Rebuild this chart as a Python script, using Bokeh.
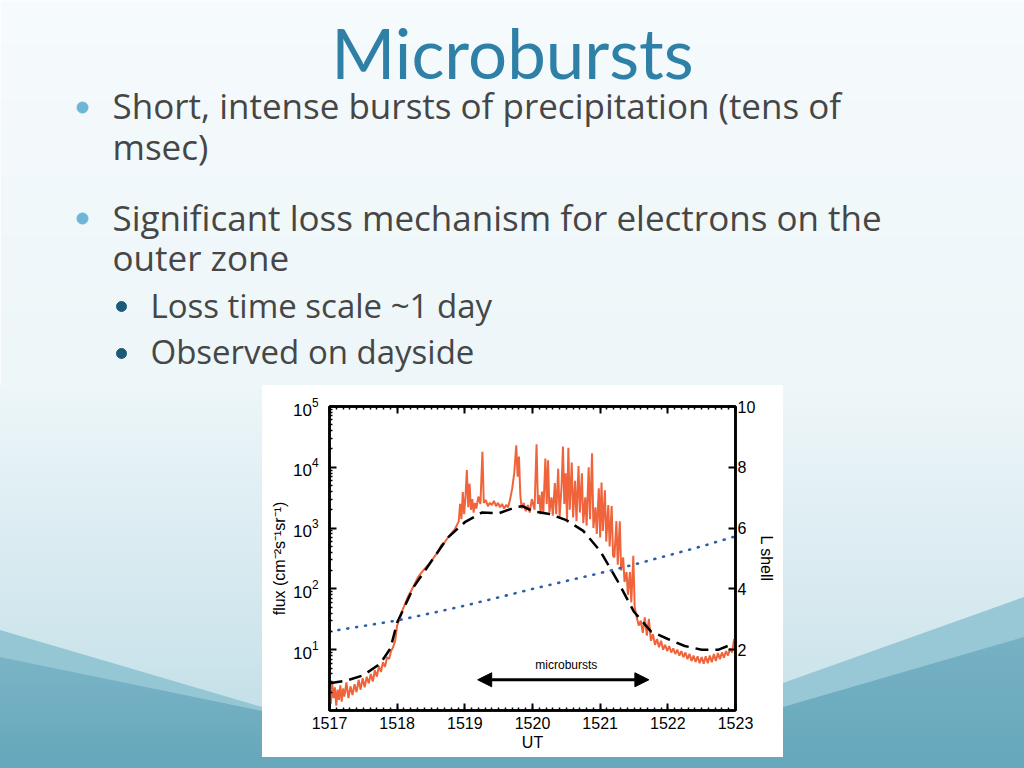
import numpy as np
from bokeh.plotting import figure
from bokeh.layouts import column, row
from bokeh.models import (Range1d, LinearAxis, LinearScale, FixedTicker, SingleIntervalTicker,
                          Arrow, NormalHead, CustomJSTickFormatter, LogTickFormatter, Div)
from bokeh.core.properties import value
from bokeh.embed import file_html
from bokeh.resources import INLINE

# ---------------- slide texts ----------------
title_text = "Microbursts"
bullet1_lines = ["Short, intense bursts of  precipitation (tens of", "msec)"]
bullet2_lines = ["Significant loss mechanism for electrons on the", "outer zone"]
sub_bullets = ["Loss time scale ~1 day", "Observed on dayside"]

# ---------------- chart data ----------------
ut_ticks = [1517, 1518, 1519, 1520, 1521, 1522, 1523]
flux_ticks = [1e1, 1e2, 1e3, 1e4, 1e5]
lshell_ticks = [2, 4, 6, 8, 10]

flux_t = [1517.00, 1517.02, 1517.04, 1517.06, 1517.08, 1517.10, 1517.12, 1517.14, 1517.16, 1517.18,
          1517.20, 1517.22, 1517.25, 1517.28, 1517.31, 1517.34, 1517.37, 1517.40, 1517.43, 1517.46,
          1517.49, 1517.52, 1517.55, 1517.58, 1517.61, 1517.64, 1517.67, 1517.70, 1517.73, 1517.76,
          1517.79, 1517.82, 1517.85, 1517.88, 1517.91, 1517.94, 1517.97, 1518.00, 1518.04, 1518.08,
          1518.12, 1518.16, 1518.20, 1518.25, 1518.30, 1518.35, 1518.40, 1518.45, 1518.50, 1518.55,
          1518.60, 1518.65, 1518.70, 1518.75, 1518.80, 1518.85, 1518.88, 1518.91, 1518.93, 1518.95,
          1518.97, 1518.99, 1519.01, 1519.03, 1519.05, 1519.07, 1519.09, 1519.11, 1519.13, 1519.15,
          1519.17, 1519.20, 1519.23, 1519.26, 1519.28, 1519.31, 1519.34, 1519.37, 1519.40, 1519.43,
          1519.46, 1519.49, 1519.52, 1519.55, 1519.58, 1519.61, 1519.64, 1519.67, 1519.70, 1519.73,
          1519.76, 1519.78, 1519.80, 1519.82, 1519.84, 1519.87, 1519.90, 1519.93, 1519.96, 1519.99,
          1520.03, 1520.06, 1520.08, 1520.10, 1520.12, 1520.14, 1520.16, 1520.19, 1520.21, 1520.23,
          1520.25, 1520.28, 1520.30, 1520.33, 1520.35, 1520.38, 1520.40, 1520.43, 1520.45, 1520.47,
          1520.49, 1520.51, 1520.53, 1520.55, 1520.58, 1520.60, 1520.63, 1520.65, 1520.68, 1520.70,
          1520.73, 1520.75, 1520.78, 1520.80, 1520.83, 1520.85, 1520.88, 1520.90, 1520.93, 1520.95,
          1520.98, 1521.00, 1521.02, 1521.04, 1521.07, 1521.09, 1521.12, 1521.14, 1521.17, 1521.19,
          1521.21, 1521.24, 1521.26, 1521.29, 1521.31, 1521.34, 1521.36, 1521.39, 1521.41, 1521.44,
          1521.46, 1521.49, 1521.51, 1521.54, 1521.57, 1521.60, 1521.63, 1521.66, 1521.69, 1521.72,
          1521.75, 1521.78, 1521.81, 1521.84, 1521.87, 1521.90, 1521.93, 1521.96, 1521.99, 1522.02,
          1522.05, 1522.08, 1522.11, 1522.14, 1522.17, 1522.20, 1522.23, 1522.26, 1522.29, 1522.32,
          1522.35, 1522.38, 1522.41, 1522.44, 1522.47, 1522.50, 1522.53, 1522.56, 1522.59, 1522.62,
          1522.65, 1522.68, 1522.71, 1522.74, 1522.77, 1522.80, 1522.83, 1522.86, 1522.89, 1522.92,
          1522.95, 1522.98, 1523.00]
flux_v = [2.5, 1.3, 2.8, 1.6, 2.4, 1.2, 2.2, 1.5, 2.6, 1.4,
          2.3, 1.7, 2.9, 1.6, 2.5, 1.8, 2.7, 2.0, 3.2, 2.2,
          3.4, 2.4, 3.6, 2.8, 4.0, 3.0, 4.6, 3.6, 5.4, 4.3,
          6.2, 5.2, 7.5, 7.0, 9.5, 11, 14, 25, 33, 45,
          58, 75, 90, 115, 150, 180, 210, 240, 280, 340,
          400, 520, 580, 700, 820, 950, 1100, 1300, 2500, 1400,
          3900, 1700, 3300, 9000, 2200, 5400, 2000, 3000, 1800, 2600,
          2100, 3300, 2500, 18000, 2600, 2900, 2300, 2600, 2400, 2800,
          2300, 2600, 2200, 2500, 2100, 2400, 2200, 3000, 4500, 8000,
          23000, 7000, 15000, 3500, 2100, 2600, 1900, 2400, 1800, 3000,
          2000, 24000, 2500, 3500, 1700, 4000, 1800, 14000, 2500, 13000,
          1800, 3200, 1600, 5500, 1700, 9500, 1500, 5000, 22000, 2500,
          8000, 1400, 21000, 2000, 12000, 1500, 6000, 1300, 10500, 1800,
          8000, 1200, 3200, 1100, 10000, 1400, 17000, 1000, 2200, 800,
          4500, 700, 5600, 900, 4200, 600, 2400, 500, 2300, 350,
          330, 1300, 250, 1300, 200, 330, 130, 190, 80, 190,
          60, 350, 50, 34, 25, 30, 19, 34, 17, 32,
          14, 18, 12, 15, 11, 14, 10, 12, 9.5, 11.5,
          9, 10.5, 8.5, 10, 8, 9.5, 7.5, 9, 7, 8.5,
          6.5, 8, 6.3, 7.8, 6, 7.6, 5.9, 7.8, 6, 8,
          6.2, 8.5, 6.5, 8.8, 7, 9, 7.4, 9.5, 8, 10.5,
          9, 15, 12]

fit_t = [1517.0, 1517.25, 1517.5, 1517.75, 1517.9, 1518.0, 1518.25, 1518.5, 1518.75, 1519.0,
         1519.25, 1519.5, 1519.75, 1519.85, 1520.0, 1520.25, 1520.5, 1520.75, 1521.0, 1521.25,
         1521.5, 1521.75, 1522.0, 1522.25, 1522.5, 1522.75, 1523.0]
fit_v = [2.8, 3.1, 3.8, 5.9, 10.5, 28, 110, 280, 700, 1250,
         1800, 1750, 2200, 2300, 1900, 1700, 1350, 900, 420, 140,
         42, 20, 15, 11.5, 10, 10, 13]

lshell_t = [1517.0, 1517.5, 1518.0, 1518.5, 1519.0, 1519.5, 1520.0, 1520.5, 1521.0, 1521.5,
            1522.0, 1522.5, 1523.0]
lshell_v = [2.6, 2.78, 2.96, 3.2, 3.45, 3.72, 4.0, 4.26, 4.52, 4.8, 5.1, 5.4, 5.73]

arrow_x = [1519.19, 1521.72]
arrow_flux = 3.2
note_x = [1520.5]
note_flux = [5.6]
note_text = ["microbursts"]

CHART_FONT = "Liberation Sans"
BODY_FONT = "Open Sans"
TITLE_FONT = "Lato"
TEXT_COLOR = "#464646"


def baseline(y, fs, k=0.36):
    # text is placed by its alphabetic baseline (slide pixel rows, y downward)
    return -(y - k * fs)


# ---------------- top part: title and bullets ----------------
top = figure(width=1024, height=385, x_range=Range1d(0, 1024), y_range=Range1d(-385, 0),
             output_backend="svg", toolbar_location=None, min_border=0)
top.axis.visible = False
top.grid.visible = False
top.outline_line_color = None
step = 4
nx, ny = 1024 // step, int(np.ceil(385 / step))
ys = 385 - (np.arange(ny) + 0.5) * step
xs = (np.arange(nx) + 0.5) * step
X, Y = np.meshgrid(xs, ys)
t = (Y / 385.0)[..., None]
c0 = np.array([246, 251, 253], float)
c1 = np.array([237, 246, 249], float)
colr = c0 + (c1 - c0) * t
img = np.zeros((ny, nx, 4), dtype=np.uint8)
img[..., :3] = np.clip(colr, 0, 255).astype(np.uint8)
img[..., 3] = 255
top.image_rgba(image=[img.view(np.uint32).reshape(ny, nx)], x=0, y=-ny * step,
               dw=nx * step, dh=ny * step)

top.text(x=[512], y=[baseline(77, 69)], text=[title_text], text_font=value(TITLE_FONT),
         text_font_size="69px", text_color="#2e80a6", text_align="center",
         text_baseline="alphabetic")
top.text(x=[112, 112, 112, 112],
         y=[baseline(118, 35), baseline(159, 35), baseline(230, 35), baseline(270, 35)],
         text=bullet1_lines + bullet2_lines, text_font=value(BODY_FONT),
         text_font_size="35px", text_color=TEXT_COLOR, text_baseline="alphabetic")
top.scatter(x=[82, 82], y=[-107, -218], size=11, color="#6db6d7")
top.text(x=[150, 150], y=[baseline(317, 33), baseline(363, 33)], text=sub_bullets,
         text_font=value(BODY_FONT), text_font_size="33px", text_color=TEXT_COLOR,
         text_baseline="alphabetic")
top.scatter(x=[121, 121], y=[-306, -353], size=10, color="#1d5a78")

# ---------------- chart ----------------
p = figure(width=521, height=372, x_range=Range1d(1517, 1523), y_range=Range1d(1, 1e5),
           y_axis_type="log", output_backend="svg", toolbar_location=None,
           min_border_left=67, min_border_right=48, min_border_top=21, min_border_bottom=47,
           background_fill_color="white", border_fill_color="white")
p.grid.visible = False
p.outline_line_color = "black"
p.outline_line_width = 2.5

x_ticker = SingleIntervalTicker(interval=1, num_minor_ticks=10)
minor_log = [m * 10 ** e for e in range(0, 5) for m in range(2, 10)]
y_ticker = FixedTicker(ticks=flux_ticks, minor_ticks=minor_log)

xa = p.xaxis[0]
xa.ticker = x_ticker
xa.axis_label = "UT"
ya = p.yaxis[0]
ya.ticker = y_ticker
ya.formatter = LogTickFormatter()
ya.axis_label = "flux (cm\u207b\u00b2s\u207b\u00b9sr\u207b\u00b9)"

p.extra_y_ranges = {"L": Range1d(0, 10)}
p.extra_y_scales = {"L": LinearScale()}
ra = LinearAxis(y_range_name="L", ticker=FixedTicker(ticks=lshell_ticks), axis_label="L shell")
p.add_layout(ra, "right")
ta = LinearAxis(ticker=x_ticker, formatter=CustomJSTickFormatter(code="return ''"))
p.add_layout(ta, "above")

for ax in [xa, ya, ra, ta]:
    ax.axis_line_width = 2.5
    ax.axis_line_color = "black"
    ax.major_tick_in = 7
    ax.major_tick_out = 0
    ax.minor_tick_in = 3
    ax.minor_tick_out = 0
    ax.major_tick_line_width = 2
    ax.minor_tick_line_width = 1.5
    ax.major_label_text_font = CHART_FONT
    ax.major_label_text_font_size = "16px"
    ax.major_label_text_color = "black"
    ax.axis_label_text_font = CHART_FONT
    ax.axis_label_text_font_size = "16px"
    ax.axis_label_text_font_style = "normal"
    ax.axis_label_text_color = "black"
    ax.major_label_standoff = 6
    ax.axis_label_standoff = 2
ya.major_label_text_font_size = "17px"
ya.major_label_standoff = 11
ya.axis_label_standoff = 2
ra.minor_tick_in = 0
ra.major_label_standoff = 2
ra.axis_label_standoff = 0
ta.axis_label_standoff = 0
ta.major_label_standoff = 0

p.line(flux_t, flux_v, line_color="#f0643c", line_width=2.0)
p.line(fit_t, fit_v, line_color="black", line_width=2.5, line_dash="13 7")
p.line(lshell_t, lshell_v, y_range_name="L", line_color="#2d5ea8", line_width=2.6,
       line_dash="1 8", line_cap="round")

p.add_layout(Arrow(start=NormalHead(size=14, fill_color="black", line_color="black"),
                   end=NormalHead(size=14, fill_color="black", line_color="black"),
                   x_start=arrow_x[0], y_start=arrow_flux, x_end=arrow_x[1], y_end=arrow_flux,
                   line_width=3, line_color="black"))
p.text(x=note_x, y=note_flux, text=note_text, text_font=value(CHART_FONT),
       text_font_size="12px", text_align="center", text_baseline="middle", text_color="black")

# ---------------- decorative slide background around the chart ----------------
left_svg = (
    '<svg xmlns="http://www.w3.org/2000/svg" width="262" height="372" style="display:block">'
    '<defs><linearGradient id="gl" x1="0" y1="0" x2="0" y2="1">'
    '<stop offset="0" stop-color="rgb(237,246,249)"/>'
    '<stop offset="0.7" stop-color="rgb(206,229,236)"/>'
    '<stop offset="1" stop-color="rgb(190,220,229)"/></linearGradient>'
    '<linearGradient id="gl2" x1="0" y1="0" x2="0" y2="1">'
    '<stop offset="0" stop-color="rgb(122,180,198)"/>'
    '<stop offset="1" stop-color="rgb(104,168,188)"/></linearGradient></defs>'
    '<rect width="262" height="372" fill="url(#gl)"/>'
    '<polygon points="0,245 262,322 262,372 0,372" fill="rgb(148,198,212)"/>'
    '<polygon points="0,272 262,326 262,372 0,372" fill="url(#gl2)"/>'
    '</svg>')
right_svg = (
    '<svg xmlns="http://www.w3.org/2000/svg" width="241" height="372" style="display:block">'
    '<defs><linearGradient id="gr" x1="0" y1="0" x2="0" y2="1">'
    '<stop offset="0" stop-color="rgb(238,246,249)"/>'
    '<stop offset="0.6" stop-color="rgb(214,233,239)"/>'
    '<stop offset="1" stop-color="rgb(195,223,231)"/></linearGradient>'
    '<linearGradient id="gr2" x1="0" y1="0" x2="0" y2="1">'
    '<stop offset="0" stop-color="rgb(118,177,196)"/>'
    '<stop offset="1" stop-color="rgb(104,168,188)"/></linearGradient></defs>'
    '<rect width="241" height="372" fill="url(#gr)"/>'
    '<polygon points="0,298 241,212 241,372 0,372" fill="rgb(152,200,213)"/>'
    '<polygon points="0,322 241,252 241,372 0,372" fill="url(#gr2)"/>'
    '</svg>')
bottom_svg = (
    '<svg xmlns="http://www.w3.org/2000/svg" width="1024" height="11" style="display:block">'
    '<rect width="1024" height="11" fill="rgb(104,168,188)"/></svg>')

left = Div(text=left_svg, width=262, height=372, margin=0,
           styles={"padding": "0", "overflow": "hidden", "line-height": "0"})
right = Div(text=right_svg, width=241, height=372, margin=0,
            styles={"padding": "0", "overflow": "hidden", "line-height": "0"})
bottom = Div(text=bottom_svg, width=1024, height=11, margin=0,
             styles={"padding": "0", "overflow": "hidden", "line-height": "0"})

layout = column(top, row(left, p, right, spacing=0), bottom, spacing=0)
open("out.html", "w").write(file_html(layout, INLINE))
